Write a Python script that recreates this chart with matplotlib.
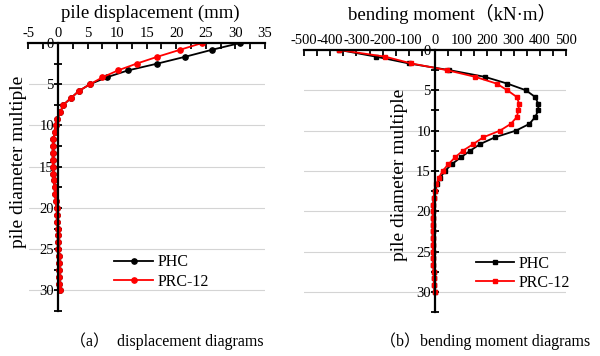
import matplotlib
matplotlib.use('Agg')
from matplotlib import pyplot as plt
from matplotlib.ticker import MultipleLocator

plt.rcParams['font.family'] = ['Liberation Serif', 'Noto Sans CJK SC']
plt.rcParams['axes.unicode_minus'] = False

# depth in pile diameter multiples
depth = [0, 0.83, 1.67, 2.5, 3.33, 4.17, 5, 5.83, 6.67, 7.5, 8.33, 9.17, 10,
         10.83, 11.67, 12.5, 13.33, 14.17, 15, 15.83, 16.67, 17.5, 18.33, 19.17,
         20, 20.83, 21.67, 22.5, 23.33, 24.17, 25, 25.83, 26.67, 27.5, 28.33,
         29.17, 30]

disp_phc = [30.8, 26.0, 21.5, 16.8, 11.8, 8.2, 5.4, 3.5, 2.2, 0.9, 0.4, -0.1,
            -0.4, -0.6, -0.8, -0.9, -0.9, -0.9, -0.85, -0.8, -0.7, -0.6, -0.5,
            -0.35, -0.25, -0.15, -0.1, -0.05, 0, 0, 0.05, 0.1, 0.1, 0.15, 0.2,
            0.2, 0.25]
disp_prc = [24.4, 20.6, 16.8, 13.3, 10.1, 7.5, 5.4, 3.5, 2.2, 0.9, 0.4, -0.1,
            -0.4, -0.6, -0.8, -0.9, -0.9, -0.9, -0.85, -0.8, -0.7, -0.6, -0.5,
            -0.35, -0.25, -0.15, -0.1, -0.05, 0, 0, 0.05, 0.1, 0.1, 0.15, 0.2,
            0.2, 0.25]

mom_phc = [-365, -225, -100, 55, 190, 276, 347, 382, 394, 394, 382, 360, 309,
           229, 172, 134, 98, 64, 38, 20, 8, 0, -5, -7, -8, -9, -9, -9, -9,
           -8, -8, -7, -6, -5, -4, -3, -2]
mom_prc = [-365, -190, -90, 45, 153, 235, 276, 312, 321, 318, 312, 289, 248,
           184, 146, 106, 76, 51, 29, 15, 5, -2, -5, -7, -8, -9, -9, -9, -9,
           -8, -8, -7, -6, -5, -4, -3, -2]

fig = plt.figure(figsize=(6, 3.56), dpi=100)
ax1 = fig.add_axes([0.0475, 0.1264, 0.394, 0.7528])
ax2 = fig.add_axes([0.5067, 0.1236, 0.4367, 0.736])


def style(ax, xmaj, xmin):
    ax.set_ylim(32.5, 0)
    ax.xaxis.tick_top()
    ax.spines['right'].set_visible(False)
    ax.spines['bottom'].set_visible(False)
    ax.spines['left'].set_position(('data', 0))
    ax.spines['left'].set_linewidth(1.6)
    ax.spines['top'].set_linewidth(1.6)
    ax.xaxis.set_major_locator(MultipleLocator(xmaj))
    ax.xaxis.set_minor_locator(MultipleLocator(xmin))
    ax.yaxis.set_major_locator(MultipleLocator(5))
    ax.yaxis.set_minor_locator(MultipleLocator(2.5))
    ax.tick_params(axis='x', which='both', direction='in', length=4, width=1.3,
                   labelsize=10.5, pad=2)
    ax.tick_params(axis='y', which='both', direction='inout', length=6, width=1.3,
                   labelsize=10.5, pad=0)
    ax.yaxis.grid(True, color='#d4d4d4', linewidth=0.8)
    ax.set_axisbelow(True)


style(ax1, 5, 2.5)
ax1.set_xlim(-5, 35)
ax1.plot(disp_phc, depth, color='black', lw=1.3, marker='o', ms=3.8, label='PHC')
ax1.plot(disp_prc, depth, color='red', lw=1.3, marker='o', ms=3.8, label='PRC-12')
ax1.legend(loc='lower left', bbox_to_anchor=(0.33, 0.05), frameon=False,
           fontsize=11.5, handlelength=2.4, handletextpad=0.3, labelspacing=0.2,
           borderpad=0)

style(ax2, 100, 50)
ax2.set_xlim(-500, 500)
ax2.plot(mom_phc, depth, color='black', lw=1.3, marker='s', ms=3.2, label='PHC')
ax2.plot(mom_prc, depth, color='red', lw=1.3, marker='s', ms=3.2, label='PRC-12')
ax2.legend(loc='lower left', bbox_to_anchor=(0.625, 0.05), frameon=False,
           fontsize=11.5, handlelength=2.4, handletextpad=0.3, labelspacing=0.2,
           borderpad=0)

fig.text(150 / 600, 1 - 13 / 356, 'pile displacement (mm)', ha='center',
         va='center', fontsize=13.5)
fig.text(452 / 600, 1 - 14 / 356, 'bending moment（kN·m）', ha='center',
         va='center', fontsize=13.5)
fig.text(19 / 600, 1 - 162 / 356, 'pile diameter multiple', rotation=90,
         ha='center', va='center', fontsize=14)
fig.text(400 / 600, 1 - 175 / 356, 'pile diameter multiple', rotation=90,
         ha='center', va='center', fontsize=14)
fig.text(167 / 600, 1 - 341 / 356, '（a）  displacement diagrams', ha='center',
         va='center', fontsize=11.5)
fig.text(485 / 600, 1 - 341 / 356, '（b）bending moment diagrams', ha='center',
         va='center', fontsize=11.5)

fig.savefig('out.png', dpi=100)
